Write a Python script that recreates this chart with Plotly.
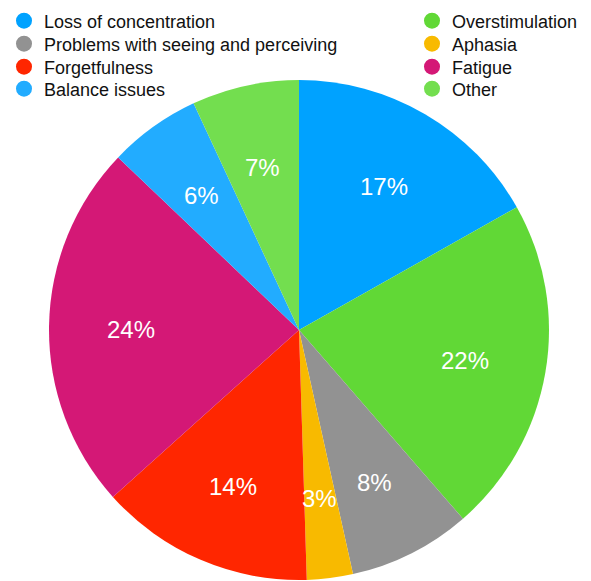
import math
import plotly.graph_objects as go

labels = ["Loss of concentration", "Overstimulation", "Problems with seeing and perceiving",
          "Aphasia", "Forgetfulness", "Fatigue", "Balance issues", "Other"]
values = [17, 22, 8, 3, 14, 24, 6, 7]
colors = ["#00a2ff", "#61d836", "#929292", "#f8ba00", "#ff2600", "#d41876", "#22acff", "#73de4f"]

W, H = 591, 581
OFF = 8  # page body margin
cx, cy, r = 299 - OFF, 330 - OFF, 250

FONT = "Liberation Sans, Arial, Helvetica, sans-serif"

fig = go.Figure()
fig.add_trace(go.Pie(
    labels=labels, values=values, sort=False, direction="clockwise", rotation=0,
    marker=dict(colors=colors, line=dict(width=0)),
    textinfo="none",
    showlegend=False, hoverinfo="label+percent",
    domain=dict(x=[(cx - r) / W, (cx + r) / W], y=[1 - (cy + r) / H, 1 - (cy - r) / H]),
))

# percentage labels placed at a fixed fraction of the radius, at each slice's mid-angle
total = sum(values)
rr_px = 168
cum = 0.0
annotations = []
for v in values:
    mid = (cum + v / 2) / total * 2 * math.pi
    cum += v
    px = cx + rr_px * math.sin(mid)
    py = cy - rr_px * math.cos(mid) + 2
    annotations.append(dict(
        x=px / W, y=1 - py / H, xref="paper", yref="paper", showarrow=False,
        text=f"{round(v / total * 100)}%", xanchor="center", yanchor="middle",
        font=dict(color="white", size=24, family=FONT),
    ))

# legend layout: two columns, four rows (page pixel positions of marker centers)
col_x = [23, 431]
row_y = [21, 44, 67, 89]
legend_layout = {}
for i, (lab, col) in enumerate(zip(labels, colors)):
    lname = "legend" if i == 0 else f"legend{i + 1}"
    c, rw = i % 2, i // 2
    fig.add_trace(go.Scatter(x=[None], y=[None], mode="markers", name=lab, legend=lname,
                             marker=dict(color=col, size=17, symbol="circle")))
    legend_layout[lname] = dict(
        x=(col_x[c] - 19 - OFF) / W, y=1 - (row_y[rw] - OFF) / H,
        xanchor="left", yanchor="middle", orientation="v",
        font=dict(size=18, family=FONT, color="#111"),
        bgcolor="rgba(0,0,0,0)", itemwidth=30,
    )

fig.update_layout(
    width=W, height=H, margin=dict(l=0, r=0, t=0, b=0, autoexpand=False),
    paper_bgcolor="white", plot_bgcolor="white",
    xaxis=dict(visible=False), yaxis=dict(visible=False),
    annotations=annotations,
    **legend_layout,
)
fig.write_html("out.html")
